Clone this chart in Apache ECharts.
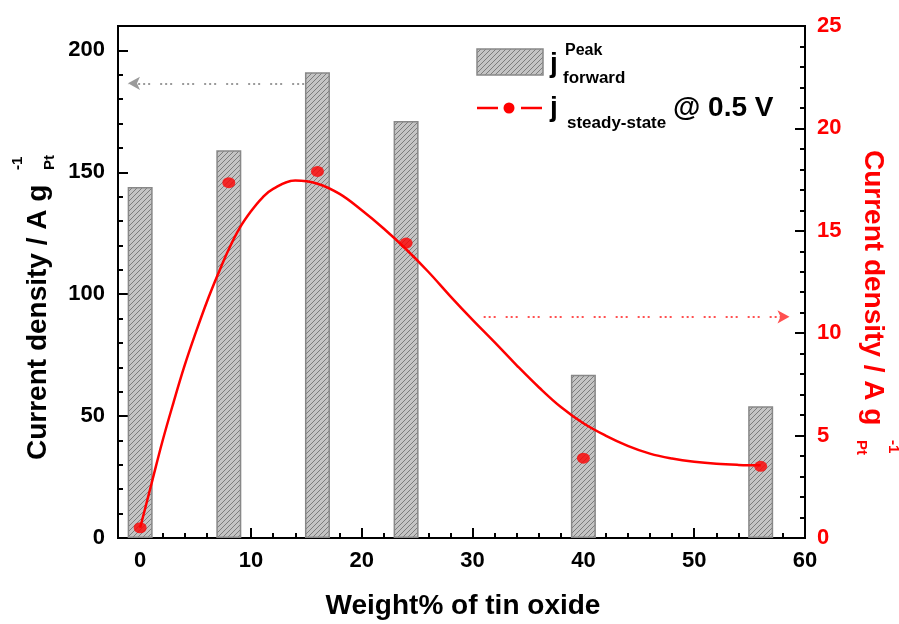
<!DOCTYPE html>
<html>
<head>
<meta charset="utf-8">
<script src="https://cdn.jsdelivr.net/npm/echarts@6/dist/echarts.min.js"></script>
<style>
  html, body { margin: 0; padding: 0; background: #fff; }
  #chart { width: 899px; height: 624px; }
</style>
</head>
<body>
<div id="chart"></div>
<script>
// weight % of tin oxide for each sample
var tinOxide = [0, 8, 16, 24, 40, 56];
// j peak forward (left axis, A/g Pt)
var peakForward = [144, 159, 191, 171, 67, 54];
// j steady-state @ 0.5 V (right axis, A/g Pt)
var steadyState = [0.5, 17.35, 17.9, 14.4, 3.9, 3.5];

// fitted curve
var fitX = [0, 1, 2, 3, 4, 5, 6, 7, 8, 9, 10, 11, 12, 14, 16, 18, 20, 22, 24, 26, 28, 30, 32, 34, 36, 38, 40, 42, 44, 46, 48, 50, 52, 54, 56];
var fitY = [0.5, 2.6, 4.7, 6.6, 8.4, 10.0, 11.5, 12.85, 14.1, 15.15, 15.95, 16.6, 17.05, 17.45, 17.3, 16.8, 16.0, 15.1, 14.1, 13.0, 11.8, 10.65, 9.55, 8.42, 7.35, 6.38, 5.6, 5.0, 4.5, 4.12, 3.88, 3.72, 3.62, 3.57, 3.55];

// tick labels
var xTicks = [0, 10, 20, 30, 40, 50, 60];
var leftTicks = [0, 50, 100, 150, 200];

// dotted guide arrows: [y, from x, to x]
var peakGuide = [186.5, 14.8, -1.1];
var steadyGuide = [10.8, 31, 58.6];

var chart = echarts.init(document.getElementById('chart'));

function hatch() {
    var c = document.createElement('canvas');
    c.width = 5; c.height = 5;
    var g = c.getContext('2d');
    g.fillStyle = '#c4c4c4';
    g.fillRect(0, 0, 5, 5);
    g.strokeStyle = '#7c7c7c';
    g.lineWidth = 1;
    g.beginPath();
    g.moveTo(0, 5); g.lineTo(5, 0);
    g.moveTo(-1, 1); g.lineTo(1, -1);
    g.moveTo(4, 6); g.lineTo(6, 4);
    g.stroke();
    return c;
}
var hatchFill = { image: hatch(), repeat: 'repeat' };

var FONT = 'Arial, "Liberation Sans", sans-serif';
var dotted = [2, 3, 2, 3, 2, 10];

function pairs(xs, ys) {
    return xs.map(function (x, i) { return [x, ys[i]]; });
}

var tickStyle = { color: '#000', width: 2 };

var option = {
    animation: false,
    grid: { left: 118, right: 94, top: 26, bottom: 86, show: true, borderColor: '#000', borderWidth: 2, outerBoundsMode: 'none' },
    xAxis: [{
        type: 'value', min: -2, max: 60, interval: 2, position: 'bottom',
        axisLine: { onZero: false, lineStyle: tickStyle },
        axisTick: { inside: true, length: 5, lineStyle: tickStyle },
        axisLabel: { customValues: xTicks, color: '#000', fontSize: 22, fontWeight: 'bold', fontFamily: FONT, margin: 12 },
        splitLine: { show: false }
    }, {
        type: 'value', min: -2, max: 60, position: 'bottom',
        axisLine: { show: false, onZero: false },
        axisTick: { inside: true, length: 10, customValues: xTicks, lineStyle: tickStyle },
        axisLabel: { show: false },
        splitLine: { show: false }
    }],
    yAxis: [{
        type: 'value', min: 0, max: 210, interval: 10, position: 'left',
        axisLine: { show: true, onZero: false, lineStyle: tickStyle },
        axisTick: { show: true, inside: true, length: 5, lineStyle: tickStyle },
        axisLabel: { customValues: leftTicks, color: '#000', fontSize: 22, fontWeight: 'bold', fontFamily: FONT, margin: 13 },
        splitLine: { show: false }
    }, {
        type: 'value', min: 0, max: 25, interval: 5, position: 'right',
        axisLine: { show: true, onZero: false, lineStyle: tickStyle },
        axisTick: { show: true, inside: true, length: 10, lineStyle: tickStyle },
        minorTick: { show: true, splitNumber: 5, length: 5, lineStyle: tickStyle },
        axisLabel: { color: '#ff0000', fontSize: 22, fontWeight: 'bold', fontFamily: FONT, margin: 12 },
        splitLine: { show: false }
    }, {
        type: 'value', min: 0, max: 210, position: 'left',
        axisLine: { show: false, onZero: false },
        axisTick: { show: true, inside: true, length: 10, customValues: leftTicks, lineStyle: tickStyle },
        axisLabel: { show: false },
        splitLine: { show: false }
    }],
    series: [{
        name: 'peak',
        type: 'bar',
        xAxisIndex: 0, yAxisIndex: 0,
        barWidth: 25,
        data: pairs(tinOxide, peakForward),
        itemStyle: { color: hatchFill, borderColor: '#888', borderWidth: 1.5 },
        markLine: {
            silent: true, symbol: ['none', 'arrow'], symbolSize: [10, 12],
            label: { show: false },
            lineStyle: { color: '#9a9a9a', type: dotted, width: 2 },
            data: [[{ coord: [peakGuide[1], peakGuide[0]] }, { coord: [peakGuide[2], peakGuide[0]] }]]
        }
    }, {
        name: 'fit',
        type: 'line',
        xAxisIndex: 0, yAxisIndex: 1,
        smooth: 0.4,
        showSymbol: false,
        data: pairs(fitX, fitY),
        lineStyle: { color: '#ff0000', width: 2.5 },
        markLine: {
            silent: true, symbol: ['none', 'arrow'], symbolSize: [10, 12],
            label: { show: false },
            lineStyle: { color: '#ff5050', type: dotted, width: 2 },
            data: [[{ coord: [steadyGuide[1], steadyGuide[0]] }, { coord: [steadyGuide[2], steadyGuide[0]] }]]
        }
    }, {
        name: 'steady',
        type: 'scatter',
        xAxisIndex: 0, yAxisIndex: 1,
        symbolSize: [13, 11],
        data: pairs(tinOxide, steadyState),
        itemStyle: { color: '#ff0000' },
        z: 5
    }],
    graphic: [
        // legend
        { type: 'rect', shape: { x: 477, y: 49, width: 66, height: 26 }, style: { fill: hatchFill, stroke: '#888', lineWidth: 1.5 } },
        { type: 'text', x: 550, y: 64, style: { text: 'j', font: 'bold 28px ' + FONT, fill: '#000', verticalAlign: 'middle' } },
        { type: 'text', x: 565, y: 51, style: { text: 'Peak', font: 'bold 16px ' + FONT, fill: '#000', verticalAlign: 'middle' } },
        { type: 'text', x: 563, y: 78, style: { text: 'forward', font: 'bold 17px ' + FONT, fill: '#000', verticalAlign: 'middle' } },
        { type: 'line', shape: { x1: 477, y1: 108, x2: 498, y2: 108 }, style: { stroke: '#ff0000', lineWidth: 2.5 } },
        { type: 'line', shape: { x1: 521, y1: 108, x2: 542, y2: 108 }, style: { stroke: '#ff0000', lineWidth: 2.5 } },
        { type: 'circle', shape: { cx: 509, cy: 108, r: 5.5 }, style: { fill: '#ff0000' } },
        { type: 'text', x: 550, y: 108, style: { text: 'j', font: 'bold 28px ' + FONT, fill: '#000', verticalAlign: 'middle' } },
        { type: 'text', x: 567, y: 123, style: { text: 'steady-state', font: 'bold 17px ' + FONT, fill: '#000', verticalAlign: 'middle' } },
        { type: 'text', x: 673, y: 108, style: { text: '@ 0.5 V', font: 'bold 28px ' + FONT, fill: '#000', verticalAlign: 'middle' } },
        // x axis title
        { type: 'text', x: 463, y: 606, style: { text: 'Weight% of tin oxide', font: 'bold 28px ' + FONT, fill: '#000', align: 'center', verticalAlign: 'middle' } },
        // left axis title (bottom to top)
        {
            type: 'group', x: 38, y: 460, rotation: Math.PI / 2,
            children: [
                { type: 'text', x: 0, y: 0, style: { text: 'Current density / A g', font: 'bold 28px ' + FONT, fill: '#000', verticalAlign: 'middle' } },
                { type: 'text', x: 290, y: -20, style: { text: '-1', font: 'bold 15px ' + FONT, fill: '#000', verticalAlign: 'middle' } },
                { type: 'text', x: 290, y: 12, style: { text: 'Pt', font: 'bold 15px ' + FONT, fill: '#000', verticalAlign: 'middle' } }
            ]
        },
        // right axis title (top to bottom)
        {
            type: 'group', x: 873, y: 150, rotation: -Math.PI / 2,
            children: [
                { type: 'text', x: 0, y: 0, style: { text: 'Current density / A g', font: 'bold 28px ' + FONT, fill: '#ff0000', verticalAlign: 'middle' } },
                { type: 'text', x: 290, y: -20, style: { text: '-1', font: 'bold 15px ' + FONT, fill: '#ff0000', verticalAlign: 'middle' } },
                { type: 'text', x: 290, y: 12, style: { text: 'Pt', font: 'bold 15px ' + FONT, fill: '#ff0000', verticalAlign: 'middle' } }
            ]
        }
    ]
};

chart.setOption(option);
</script>
</body>
</html>
